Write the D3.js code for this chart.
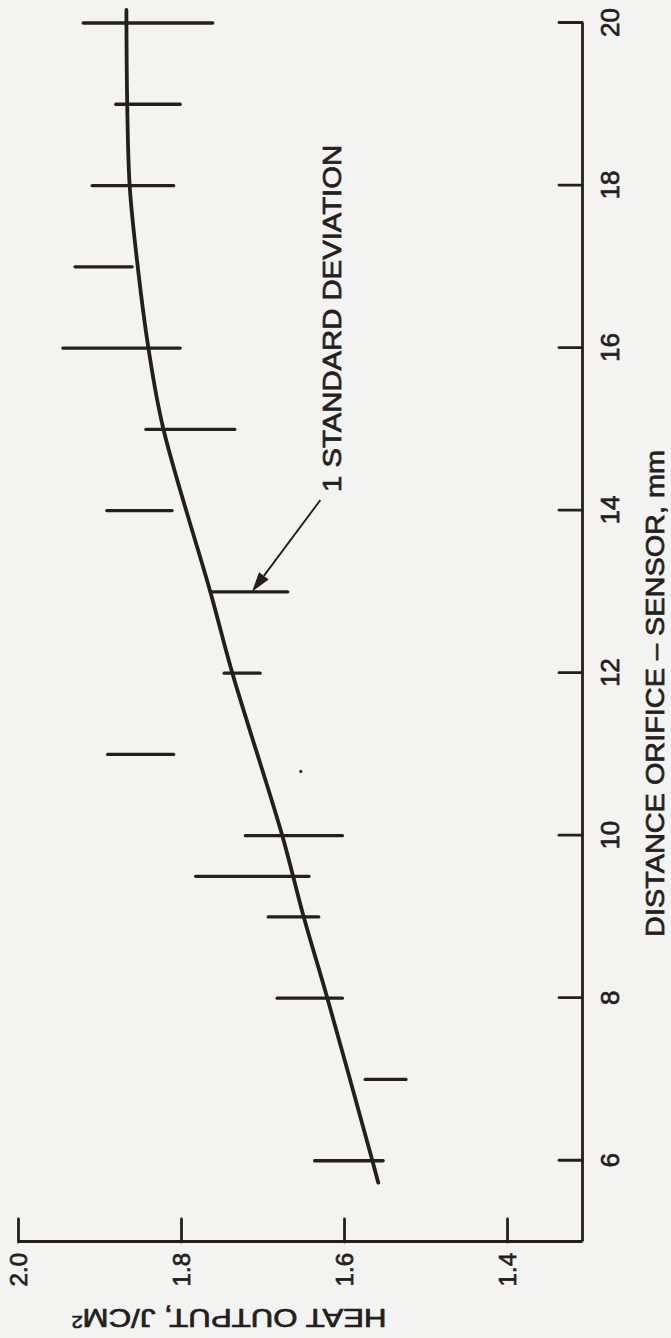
<!DOCTYPE html>
<html>
<head>
<meta charset="utf-8">
<script src="https://cdn.jsdelivr.net/npm/d3@7"></script>
<style>
  html, body { margin: 0; padding: 0; background: #f3f3f1; }
  svg { display: block; }
  text { font-family: "Liberation Sans", Arial, sans-serif; fill: #231f20; }
</style>
</head>
<body>
<svg id="chart" width="671" height="1338"></svg>
<script>
// ---- data ----
const distances = [20, 19, 18, 17, 16, 15, 14, 13, 12, 11, 10, 9.5, 9, 8, 7, 6];
const sdLow  = [1.761, 1.801, 1.809, 1.860, 1.801, 1.734, 1.811, 1.669, 1.703, 1.809, 1.602, 1.643, 1.631, 1.602, 1.524, 1.552];
const sdHigh = [1.920, 1.880, 1.909, 1.930, 1.945, 1.843, 1.891, 1.764, 1.747, 1.890, 1.721, 1.782, 1.693, 1.682, 1.574, 1.636];
const curveD = [20.16, 19.0, 18.0, 17.08, 16.0, 15.02, 13.0, 12.0, 10.01, 9.02, 8.02, 6.03, 5.73];
const curveH = [1.867, 1.866, 1.863, 1.854, 1.840, 1.822, 1.764, 1.737, 1.676, 1.650, 1.621, 1.566, 1.558];
const strayDotD = [10.79];
const strayDotH = [1.653];
const xTicks = [6, 8, 10, 12, 14, 16, 18, 20];
const yTicks = [1.4, 1.6, 1.8, 2.0];
const xTitle = "DISTANCE ORIFICE \u2013 SENSOR, mm";
const yTitle = "HEAT OUTPUT, J/CM";
const noteText = "1 STANDARD DEVIATION";
const noteAnchor = {d: 14.23, h: 1.615};   // where the note text starts
const arrowFrom = {d: 14.13, h: 1.629};
const arrowTo   = {d: 13.0,  h: 1.713};

// ---- layout ----
const W = 1338;                   // chart drawn unrotated, then turned 90° CCW
const ink = "#231f20";
const svg = d3.select("#chart");
const g = svg.append("g").attr("transform", `translate(0,${W}) rotate(-90)`);

const x = d3.scaleLinear().domain([5, 20]).range([96, 1315]);
const y = d3.scaleLinear().domain([1.308, 2.0]).range([582, 18]);

const bolden = sel => sel.attr("stroke", ink).attr("stroke-width", 0.7).attr("paint-order", "stroke");

// axes
const xAxis = d3.axisBottom(x).tickValues(xTicks).tickSize(-23).tickSizeOuter(0).tickPadding(0)
  .tickFormat(d3.format("d"));
const gx = g.append("g").attr("transform", `translate(0,${y.range()[0]})`).call(xAxis);
const yAxis = d3.axisLeft(y).tickValues(yTicks).tickSize(-23).tickSizeOuter(0).tickPadding(11)
  .tickFormat(d3.format(".1f"));
const gy = g.append("g").attr("transform", `translate(${x.range()[0]},0)`).call(yAxis);

[gx, gy].forEach(a => {
  a.selectAll("path.domain").attr("stroke", ink).attr("stroke-width", 2.8);
  a.selectAll(".tick line").attr("stroke", ink).attr("stroke-width", 2.8).attr("stroke-linecap", "round");
  a.selectAll(".tick text").attr("fill", ink).style("font-family", '"Liberation Sans", Arial, sans-serif')
    .call(bolden);
});
gx.selectAll(".tick text").attr("y", 28).attr("dy", "0.35em").style("font-size", "26px");
gy.selectAll(".tick text").attr("dy", "0.35em").style("font-size", "24px");

// axis titles
g.append("text")
  .attr("transform", `translate(${x(11.75)},655)`)
  .attr("text-anchor", "middle").attr("dy", "0.35em")
  .attr("textLength", 487).attr("lengthAdjust", "spacingAndGlyphs")
  .style("font-size", "26px")
  .call(bolden)
  .text(xTitle);

const yt = g.append("text")
  .attr("transform", `translate(20,229) rotate(-90)`)
  .attr("text-anchor", "middle").attr("dy", "0.35em")
  .attr("textLength", 315).attr("lengthAdjust", "spacingAndGlyphs")
  .style("font-size", "25px")
  .call(bolden);
yt.append("tspan").text(yTitle);
yt.append("tspan").attr("dy", "-0.45em").style("font-size", "16px").text("2");

// fitted curve
const curvePts = curveD.map((d, i) => [x(d), y(curveH[i])]);
g.append("path")
  .attr("d", d3.line().curve(d3.curveCatmullRom.alpha(0.5))(curvePts))
  .attr("fill", "none").attr("stroke", ink).attr("stroke-width", 3.8).attr("stroke-linecap", "round");

// error bars (±1 SD)
g.selectAll("line.err").data(distances).join("line")
  .attr("class", "err")
  .attr("x1", d => x(d)).attr("x2", d => x(d))
  .attr("y1", (d, i) => y(sdLow[i])).attr("y2", (d, i) => y(sdHigh[i]))
  .attr("stroke", ink).attr("stroke-width", 3.3).attr("stroke-linecap", "round");

// stray dot
g.selectAll("circle.dot").data(strayDotD).join("circle")
  .attr("cx", d => x(d)).attr("cy", (d, i) => y(strayDotH[i])).attr("r", 1.6).attr("fill", ink);

// annotation
g.append("text")
  .attr("x", x(noteAnchor.d)).attr("y", y(noteAnchor.h)).attr("dy", "0.35em")
  .attr("textLength", 347).attr("lengthAdjust", "spacingAndGlyphs")
  .style("font-size", "25px")
  .call(bolden)
  .text(noteText);

const ax1 = x(arrowFrom.d), ay1 = y(arrowFrom.h), ax2 = x(arrowTo.d), ay2 = y(arrowTo.h);
const ang = Math.atan2(ay2 - ay1, ax2 - ax1);
const headLen = 20, headW = 6;
const bx = ax2 - headLen * Math.cos(ang), by = ay2 - headLen * Math.sin(ang);
g.append("line")
  .attr("x1", ax1).attr("y1", ay1).attr("x2", bx).attr("y2", by)
  .attr("stroke", ink).attr("stroke-width", 1.9);
g.append("path")
  .attr("d", d3.line()([
    [ax2, ay2],
    [bx + headW * Math.sin(ang), by - headW * Math.cos(ang)],
    [bx - headW * Math.sin(ang), by + headW * Math.cos(ang)]
  ]) + "Z")
  .attr("fill", ink);
</script>
</body>
</html>
